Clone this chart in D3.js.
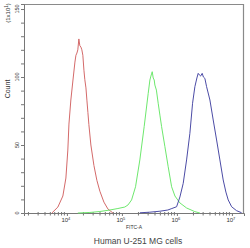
<!DOCTYPE html>
<html>
<head>
<meta charset="utf-8">
<script src="https://cdn.jsdelivr.net/npm/d3@7"></script>
<style>
  body { margin: 0; background: #fff; }
  text { font-family: "Liberation Sans", Arial, sans-serif; fill: #333; }
</style>
</head>
<body>
<script>
// histogram data (FITC-A value, count)
var redFitc = [5330, 6860, 8450, 9590, 10400, 10900, 11800, 12900, 14000, 14600, 15200, 15800, 16500, 17200, 18000, 18700, 19500, 20400, 21200, 22200, 23100, 24100, 25100, 27300, 31000, 35100, 39800, 47100, 55600, 68600];
var redCount = [0, 4.4, 12.5, 25.7, 46.3, 65.4, 83.1, 97.8, 111, 116, 117.6, 120, 128, 123, 122, 120, 116, 105, 98, 92, 83, 74, 65, 50, 35, 24, 16, 8, 3, 0];

var greenFitc = [15800, 26200, 39800, 60500, 84600, 113000, 129000, 150000, 177000, 212000, 254000, 301000, 323000, 337000, 356000, 371000, 387000, 398000, 424000, 457000, 491000, 527000, 605000, 695000, 802000, 921000, 1135000, 1500000, 2120000, 2620000];
var greenCount = [0, 0.4, 1.1, 2.2, 3.3, 4.4, 5.9, 9.6, 19.3, 39, 63.5, 88, 97.8, 100.7, 103.9, 99.3, 97.8, 94.1, 90.4, 80.7, 72, 63.5, 48.8, 34, 19.3, 12.5, 7.4, 3.7, 1, 0];

var blueFitc = [212000, 323000, 491000, 685000, 811000, 988000, 1135000, 1303000, 1500000, 1722000, 1928000, 2124000, 2310000, 2440000, 2565000, 2697000, 2884000, 3033000, 3228000, 3467000, 3664000, 3984000, 4573000, 5270000, 6053000, 6950000, 7780000, 8570000, 9890000, 12170000, 15000000];
var blueCount = [0.15, 0.6, 1.3, 2.2, 3.3, 4.6, 11.8, 21.8, 39, 58.6, 80.7, 92.9, 99.3, 102.7, 101.5, 100.7, 102.7, 100, 99, 92.9, 89, 83.1, 68.4, 53.7, 39, 24.3, 15.4, 9.6, 4.6, 1.7, 0.2];

var xTickValues = [1e4, 1e5, 1e6, 1e7];
var xTickExp = ["4", "5", "6", "7"];
var yTickValues = [0, 50, 100, 150];

const margin = {top: 4, right: 6, bottom: 35, left: 24};
const width = 250 - margin.left - margin.right;
const height = 248 - margin.top - margin.bottom;

var svg = d3.select('body')
            .append("svg")
            .attr("width", 250)
            .attr("height", 248);

var g = svg.append("g")
           .attr("transform", "translate(" + margin.left + "," + margin.top + ")");

var x = d3.scaleLog()
          .domain([1660, 16600000])
          .range([0, width]);

var y = d3.scaleLinear()
          .domain([0, 153.7])
          .range([height, 0]);

// frame on top and right
g.append("path")
 .attr("d", "M0,0.5H" + (width - 0.5) + "V" + height)
 .attr("fill", "none")
 .attr("stroke", "#8a8a8a")
 .attr("stroke-width", 1.2);

// minor ticks on x
var xMinor = [];
for (var p = 3; p <= 7; p++) {
    for (var k = 2; k <= 9; k++) {
        var v = k * Math.pow(10, p);
        if (v > x.domain()[0] && v < x.domain()[1]) xMinor.push(v);
    }
}

var xAxis = g.append("g")
             .attr("transform", "translate(0," + height + ")")
             .call(d3.axisBottom(x).tickValues(xTickValues).tickSize(3).tickFormat(""));
xAxis.select(".domain").attr("stroke", "#777");
xAxis.selectAll(".tick line").attr("stroke", "#777");

g.append("g")
 .attr("transform", "translate(0," + height + ")")
 .selectAll("line")
 .data(xMinor)
 .enter()
 .append("line")
 .attr("x1", function(d){ return x(d); })
 .attr("x2", function(d){ return x(d); })
 .attr("y1", -1)
 .attr("y2", 2.5)
 .attr("stroke", "#777");

var xLab = g.append("g")
            .selectAll("text")
            .data(xTickValues)
            .enter()
            .append("text")
            .attr("x", function(d){ return x(d) - 1; })
            .attr("y", height + 9)
            .attr("text-anchor", "middle")
            .style("font-size", "6px");
xLab.append("tspan").text("10");
xLab.append("tspan")
    .attr("dy", -2.5)
    .style("font-size", "4px")
    .text(function(d, i){ return xTickExp[i]; });

// y axis
var yMinor = d3.range(0, 151, 10);

var yAxis = g.append("g")
             .call(d3.axisLeft(y).tickValues(yMinor).tickSize(3).tickFormat(""));
yAxis.select(".domain").attr("stroke", "#777");
yAxis.selectAll(".tick line").attr("stroke", "#777");

g.append("g")
 .selectAll("text")
 .data(yTickValues)
 .enter()
 .append("text")
 .attr("transform", function(d){ return "translate(-5," + y(d) + ") rotate(-90)"; })
 .attr("text-anchor", "middle")
 .style("font-size", "5.5px")
 .text(function(d){ return d; });

svg.append("text")
   .attr("transform", "translate(10,89) rotate(-90)")
   .attr("text-anchor", "middle")
   .style("font-size", "7px")
   .text("Count");

var unit = svg.append("text")
              .attr("transform", "translate(10,13) rotate(-90)")
              .attr("text-anchor", "middle")
              .style("font-size", "6px");
unit.append("tspan").text("(1x10");
unit.append("tspan").attr("dy", -2).style("font-size", "4.5px").text("1");
unit.append("tspan").attr("dy", 2).text(")");

svg.append("text")
   .attr("x", margin.left + width / 2)
   .attr("y", 229)
   .attr("text-anchor", "middle")
   .style("font-size", "5px")
   .text("FITC-A");

svg.append("text")
   .attr("x", 138)
   .attr("y", 244)
   .attr("text-anchor", "middle")
   .style("font-size", "8.5px")
   .style("fill", "#444")
   .text("Human U-251 MG cells");

// histograms
var line = d3.line()
             .x(function(d){ return x(d[0]); })
             .y(function(d){ return y(d[1]); });

var series = [
    {fitc: redFitc, count: redCount, color: "#d46a6a"},
    {fitc: greenFitc, count: greenCount, color: "#6ee86e"},
    {fitc: blueFitc, count: blueCount, color: "#4c4ca6"}
];

series.forEach(function(s){
    g.append("path")
     .datum(d3.zip(s.fitc, s.count))
     .attr("fill", "none")
     .attr("stroke", s.color)
     .attr("stroke-width", 1)
     .attr("d", line);
});
</script>
</body>
</html>
